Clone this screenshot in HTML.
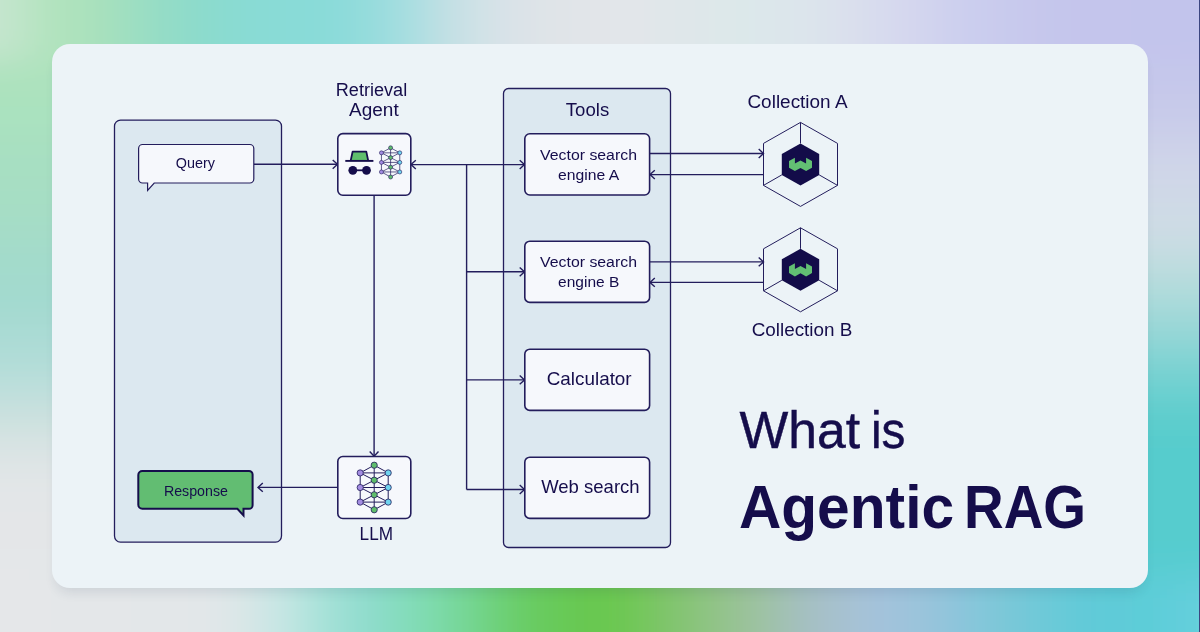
<!DOCTYPE html>
<html><head><meta charset="utf-8">
<style>
*{margin:0;padding:0;box-sizing:border-box}
html,body{width:1200px;height:632px;overflow:hidden}
body{position:relative;font-family:"Liberation Sans",sans-serif;color:#150d4b;background:#dfe5e8;}
#edge{position:absolute;left:1199px;top:0;width:1px;height:632px;background:#3c4680}
#card{position:absolute;left:52px;top:44px;width:1096px;height:544px;border-radius:18px;background:#ecf3f7;box-shadow:0 8px 12px -4px rgba(30,50,80,0.12)}
svg{position:absolute;left:0;top:0}
#main{will-change:transform}
</style></head>
<body>
<svg id="bgsvg" width="1200" height="632" viewBox="0 0 1200 632" style="position:absolute;left:0;top:0"><defs><filter id="bl" filterUnits="userSpaceOnUse" x="-100" y="-100" width="1400" height="832"><feGaussianBlur stdDeviation="16"/></filter></defs><g filter="url(#bl)"><rect x="-100" y="-100" width="1400" height="832" fill="#e3e6e9"/><rect x="-100" y="-100" width="20" height="200" fill="#c6e5cf"/><rect x="-100" y="532" width="20" height="200" fill="#e5e7e9"/><rect x="-80" y="-100" width="20" height="200" fill="#c6e5cf"/><rect x="-80" y="532" width="20" height="200" fill="#e5e7e9"/><rect x="-60" y="-100" width="20" height="200" fill="#c6e5cf"/><rect x="-60" y="532" width="20" height="200" fill="#e5e7e9"/><rect x="-40" y="-100" width="20" height="200" fill="#c6e5cf"/><rect x="-40" y="532" width="20" height="200" fill="#e5e7e9"/><rect x="-20" y="-100" width="20" height="200" fill="#c6e5cf"/><rect x="-20" y="532" width="20" height="200" fill="#e5e7e9"/><rect x="0" y="-100" width="20" height="200" fill="#c2e5cc"/><rect x="0" y="532" width="20" height="200" fill="#e5e7e9"/><rect x="20" y="-100" width="20" height="200" fill="#bae4c5"/><rect x="20" y="532" width="20" height="200" fill="#e5e7e9"/><rect x="40" y="-100" width="20" height="200" fill="#b2e3be"/><rect x="40" y="532" width="20" height="200" fill="#e4e7e9"/><rect x="60" y="-100" width="20" height="200" fill="#aee2bd"/><rect x="60" y="532" width="20" height="200" fill="#e4e7e9"/><rect x="80" y="-100" width="20" height="200" fill="#aae1bc"/><rect x="80" y="532" width="20" height="200" fill="#e4e7e9"/><rect x="100" y="-100" width="20" height="200" fill="#a5e0be"/><rect x="100" y="532" width="20" height="200" fill="#e4e7e9"/><rect x="120" y="-100" width="20" height="200" fill="#9edfc1"/><rect x="120" y="532" width="20" height="200" fill="#e3e7e9"/><rect x="140" y="-100" width="20" height="200" fill="#98ddc4"/><rect x="140" y="532" width="20" height="200" fill="#e3e7e9"/><rect x="160" y="-100" width="20" height="200" fill="#93dcc7"/><rect x="160" y="532" width="20" height="200" fill="#e3e7e9"/><rect x="180" y="-100" width="20" height="200" fill="#8edbca"/><rect x="180" y="532" width="20" height="200" fill="#e2e7e9"/><rect x="200" y="-100" width="20" height="200" fill="#8bdbce"/><rect x="200" y="532" width="20" height="200" fill="#e2e7e9"/><rect x="220" y="-100" width="20" height="200" fill="#8adbd1"/><rect x="220" y="532" width="20" height="200" fill="#dee7e8"/><rect x="240" y="-100" width="20" height="200" fill="#89dbd4"/><rect x="240" y="532" width="20" height="200" fill="#d5e6e6"/><rect x="260" y="-100" width="20" height="200" fill="#88dbd6"/><rect x="260" y="532" width="20" height="200" fill="#cce6e5"/><rect x="280" y="-100" width="20" height="200" fill="#89dbd7"/><rect x="280" y="532" width="20" height="200" fill="#c0e5e2"/><rect x="300" y="-100" width="20" height="200" fill="#89dbd8"/><rect x="300" y="532" width="20" height="200" fill="#b0e3dc"/><rect x="320" y="-100" width="20" height="200" fill="#8adbd9"/><rect x="320" y="532" width="20" height="200" fill="#a3e1d7"/><rect x="340" y="-100" width="20" height="200" fill="#8edbda"/><rect x="340" y="532" width="20" height="200" fill="#98ded2"/><rect x="360" y="-100" width="20" height="200" fill="#96dcdc"/><rect x="360" y="532" width="20" height="200" fill="#8edccc"/><rect x="380" y="-100" width="20" height="200" fill="#9edddf"/><rect x="380" y="532" width="20" height="200" fill="#88dcc2"/><rect x="400" y="-100" width="20" height="200" fill="#a9dee1"/><rect x="400" y="532" width="20" height="200" fill="#83dcb9"/><rect x="420" y="-100" width="20" height="200" fill="#b6dfe2"/><rect x="420" y="532" width="20" height="200" fill="#7edbad"/><rect x="440" y="-100" width="20" height="200" fill="#c4e0e4"/><rect x="440" y="532" width="20" height="200" fill="#79d8a0"/><rect x="460" y="-100" width="20" height="200" fill="#cce1e6"/><rect x="460" y="532" width="20" height="200" fill="#74d692"/><rect x="480" y="-100" width="20" height="200" fill="#d4e2e7"/><rect x="480" y="532" width="20" height="200" fill="#70d280"/><rect x="500" y="-100" width="20" height="200" fill="#dae2e8"/><rect x="500" y="532" width="20" height="200" fill="#6ccf6f"/><rect x="520" y="-100" width="20" height="200" fill="#dce3e8"/><rect x="520" y="532" width="20" height="200" fill="#69cc62"/><rect x="540" y="-100" width="20" height="200" fill="#e0e4e8"/><rect x="540" y="532" width="20" height="200" fill="#68ca5b"/><rect x="560" y="-100" width="20" height="200" fill="#e1e4e8"/><rect x="560" y="532" width="20" height="200" fill="#67c954"/><rect x="580" y="-100" width="20" height="200" fill="#e1e5e9"/><rect x="580" y="532" width="20" height="200" fill="#68c850"/><rect x="600" y="-100" width="20" height="200" fill="#e2e5e9"/><rect x="600" y="532" width="20" height="200" fill="#6ac850"/><rect x="620" y="-100" width="20" height="200" fill="#e2e6ea"/><rect x="620" y="532" width="20" height="200" fill="#70c756"/><rect x="640" y="-100" width="20" height="200" fill="#e1e6ea"/><rect x="640" y="532" width="20" height="200" fill="#78c661"/><rect x="660" y="-100" width="20" height="200" fill="#e0e7ea"/><rect x="660" y="532" width="20" height="200" fill="#80c56d"/><rect x="680" y="-100" width="20" height="200" fill="#dfe7ea"/><rect x="680" y="532" width="20" height="200" fill="#88c478"/><rect x="700" y="-100" width="20" height="200" fill="#dee7ea"/><rect x="700" y="532" width="20" height="200" fill="#8fc384"/><rect x="720" y="-100" width="20" height="200" fill="#dde8ea"/><rect x="720" y="532" width="20" height="200" fill="#95c390"/><rect x="740" y="-100" width="20" height="200" fill="#dce8ea"/><rect x="740" y="532" width="20" height="200" fill="#9cc29c"/><rect x="760" y="-100" width="20" height="200" fill="#dce6eb"/><rect x="760" y="532" width="20" height="200" fill="#9fc1a9"/><rect x="780" y="-100" width="20" height="200" fill="#dce6eb"/><rect x="780" y="532" width="20" height="200" fill="#a3c1b7"/><rect x="800" y="-100" width="20" height="200" fill="#dce4ec"/><rect x="800" y="532" width="20" height="200" fill="#a6c0c4"/><rect x="820" y="-100" width="20" height="200" fill="#dbe2ec"/><rect x="820" y="532" width="20" height="200" fill="#a6c1cb"/><rect x="840" y="-100" width="20" height="200" fill="#dae0ed"/><rect x="840" y="532" width="20" height="200" fill="#a6c1d3"/><rect x="860" y="-100" width="20" height="200" fill="#d8dced"/><rect x="860" y="532" width="20" height="200" fill="#a6c2da"/><rect x="880" y="-100" width="20" height="200" fill="#d7daee"/><rect x="880" y="532" width="20" height="200" fill="#a1c3db"/><rect x="900" y="-100" width="20" height="200" fill="#d4d6ee"/><rect x="900" y="532" width="20" height="200" fill="#9dc3db"/><rect x="920" y="-100" width="20" height="200" fill="#d1d4ee"/><rect x="920" y="532" width="20" height="200" fill="#98c4dc"/><rect x="940" y="-100" width="20" height="200" fill="#ced0ee"/><rect x="940" y="532" width="20" height="200" fill="#90c5db"/><rect x="960" y="-100" width="20" height="200" fill="#cbceee"/><rect x="960" y="532" width="20" height="200" fill="#88c6da"/><rect x="980" y="-100" width="20" height="200" fill="#cacced"/><rect x="980" y="532" width="20" height="200" fill="#80c7d9"/><rect x="1000" y="-100" width="20" height="200" fill="#c8caed"/><rect x="1000" y="532" width="20" height="200" fill="#79c8d8"/><rect x="1020" y="-100" width="20" height="200" fill="#c7c8ec"/><rect x="1020" y="532" width="20" height="200" fill="#72c9d8"/><rect x="1040" y="-100" width="20" height="200" fill="#c5c6ec"/><rect x="1040" y="532" width="20" height="200" fill="#6cc9d8"/><rect x="1060" y="-100" width="20" height="200" fill="#c5c6ec"/><rect x="1060" y="532" width="20" height="200" fill="#65cad8"/><rect x="1080" y="-100" width="20" height="200" fill="#c4c5ec"/><rect x="1080" y="532" width="20" height="200" fill="#61cad8"/><rect x="1100" y="-100" width="20" height="200" fill="#c4c5ec"/><rect x="1100" y="532" width="20" height="200" fill="#5fcbd8"/><rect x="1120" y="-100" width="20" height="200" fill="#c3c5ec"/><rect x="1120" y="532" width="20" height="200" fill="#5eccd8"/><rect x="1140" y="-100" width="20" height="200" fill="#c3c5ec"/><rect x="1140" y="532" width="20" height="200" fill="#5ccdd8"/><rect x="1160" y="-100" width="20" height="200" fill="#c3c4ec"/><rect x="1160" y="532" width="20" height="200" fill="#60ceda"/><rect x="1180" y="-100" width="20" height="200" fill="#c2c4ec"/><rect x="1180" y="532" width="20" height="200" fill="#64cfdb"/><rect x="1200" y="-100" width="20" height="200" fill="#c2c4ec"/><rect x="1200" y="532" width="20" height="200" fill="#66d0dc"/><rect x="1220" y="-100" width="20" height="200" fill="#c2c4ec"/><rect x="1220" y="532" width="20" height="200" fill="#66d0dc"/><rect x="1240" y="-100" width="20" height="200" fill="#c2c4ec"/><rect x="1240" y="532" width="20" height="200" fill="#66d0dc"/><rect x="1260" y="-100" width="20" height="200" fill="#c2c4ec"/><rect x="1260" y="532" width="20" height="200" fill="#66d0dc"/><rect x="1280" y="-100" width="20" height="200" fill="#c2c4ec"/><rect x="1280" y="532" width="20" height="200" fill="#66d0dc"/><rect x="-100" y="60" width="210" height="20" fill="#aee2bd"/><rect x="1090" y="60" width="210" height="20" fill="#c5c7eb"/><rect x="-100" y="80" width="210" height="20" fill="#ace2be"/><rect x="1090" y="80" width="210" height="20" fill="#c6c8ea"/><rect x="-100" y="100" width="210" height="20" fill="#aae2bf"/><rect x="1090" y="100" width="210" height="20" fill="#c7caea"/><rect x="-100" y="120" width="210" height="20" fill="#a9e1c0"/><rect x="1090" y="120" width="210" height="20" fill="#cacee9"/><rect x="-100" y="140" width="210" height="20" fill="#a8e0c1"/><rect x="1090" y="140" width="210" height="20" fill="#cdd2e9"/><rect x="-100" y="160" width="210" height="20" fill="#a7dfc2"/><rect x="1090" y="160" width="210" height="20" fill="#d0d6e8"/><rect x="-100" y="180" width="210" height="20" fill="#a6dec3"/><rect x="1090" y="180" width="210" height="20" fill="#cfd8e7"/><rect x="-100" y="200" width="210" height="20" fill="#a6dec5"/><rect x="1090" y="200" width="210" height="20" fill="#cfdae6"/><rect x="-100" y="220" width="210" height="20" fill="#a5dcc7"/><rect x="1090" y="220" width="210" height="20" fill="#cedce4"/><rect x="-100" y="240" width="210" height="20" fill="#a4dcca"/><rect x="1090" y="240" width="210" height="20" fill="#c6dce2"/><rect x="-100" y="260" width="210" height="20" fill="#a3dacc"/><rect x="1090" y="260" width="210" height="20" fill="#bcdcde"/><rect x="-100" y="280" width="210" height="20" fill="#a2dace"/><rect x="1090" y="280" width="210" height="20" fill="#b1dbdb"/><rect x="-100" y="300" width="210" height="20" fill="#a4dad0"/><rect x="1090" y="300" width="210" height="20" fill="#a4d9d9"/><rect x="-100" y="320" width="210" height="20" fill="#a9dad4"/><rect x="1090" y="320" width="210" height="20" fill="#97d7d7"/><rect x="-100" y="340" width="210" height="20" fill="#aedcd6"/><rect x="1090" y="340" width="210" height="20" fill="#89d4d4"/><rect x="-100" y="360" width="210" height="20" fill="#b4ddd9"/><rect x="1090" y="360" width="210" height="20" fill="#79d2d2"/><rect x="-100" y="380" width="210" height="20" fill="#bedfdb"/><rect x="1090" y="380" width="210" height="20" fill="#6cd0d0"/><rect x="-100" y="400" width="210" height="20" fill="#c7e0de"/><rect x="1090" y="400" width="210" height="20" fill="#62cece"/><rect x="-100" y="420" width="210" height="20" fill="#d1e2e0"/><rect x="1090" y="420" width="210" height="20" fill="#58cccc"/><rect x="-100" y="440" width="210" height="20" fill="#d9e3e4"/><rect x="1090" y="440" width="210" height="20" fill="#56cccc"/><rect x="-100" y="460" width="210" height="20" fill="#e0e5e6"/><rect x="1090" y="460" width="210" height="20" fill="#56cccd"/><rect x="-100" y="480" width="210" height="20" fill="#e3e6e8"/><rect x="1090" y="480" width="210" height="20" fill="#56cccd"/><rect x="-100" y="500" width="210" height="20" fill="#e3e6e8"/><rect x="1090" y="500" width="210" height="20" fill="#56ccce"/><rect x="-100" y="520" width="210" height="20" fill="#e4e6e8"/><rect x="1090" y="520" width="210" height="20" fill="#56ccce"/><rect x="-100" y="540" width="210" height="20" fill="#e4e6e8"/><rect x="1090" y="540" width="210" height="20" fill="#56cccf"/><rect x="-100" y="560" width="210" height="20" fill="#e4e7e9"/><rect x="1090" y="560" width="210" height="20" fill="#59ccd1"/></g></svg><div id="edge"></div>
<div id="card"></div>
<svg id="main" width="1200" height="632" viewBox="0 0 1200 632">
<g fill="none" stroke="#231d5c" stroke-width="1.3">
<rect x="114.5" y="120.1" width="167" height="422" rx="6" fill="#dce8f0"/>
<rect x="503.5" y="88.5" width="167" height="459" rx="5" fill="#dce8f0"/>
</g>
<g fill="none" stroke="#231d5c" stroke-width="1.4" stroke-linejoin="miter">
<line x1="254" y1="164.3" x2="337.5" y2="164.3"/>
<path d="M332.70,159.90 L337.50,164.30 L332.70,168.70"/>
<line x1="411" y1="164.6" x2="524.5" y2="164.6"/>
<path d="M415.80,160.20 L411.00,164.60 L415.80,169.00"/>
<path d="M519.70,160.20 L524.50,164.60 L519.70,169.00"/>
<line x1="466.6" y1="164.6" x2="466.6" y2="489.5"/>
<line x1="466.6" y1="271.8" x2="524.5" y2="271.8"/>
<path d="M519.70,267.40 L524.50,271.80 L519.70,276.20"/>
<line x1="466.6" y1="379.9" x2="524.5" y2="379.9"/>
<path d="M519.70,375.50 L524.50,379.90 L519.70,384.30"/>
<line x1="466.6" y1="489.5" x2="524.5" y2="489.5"/>
<path d="M519.70,485.10 L524.50,489.50 L519.70,493.90"/>
<line x1="374.1" y1="195.5" x2="374.1" y2="456.3"/>
<path d="M369.70,451.50 L374.10,456.30 L378.50,451.50"/>
<line x1="337.5" y1="487.4" x2="258" y2="487.4"/>
<path d="M262.80,483.00 L258.00,487.40 L262.80,491.80"/>
<line x1="650" y1="153.5" x2="763.5" y2="153.5"/>
<path d="M758.70,149.10 L763.50,153.50 L758.70,157.90"/>
<line x1="763.5" y1="174.6" x2="650" y2="174.6"/>
<path d="M654.80,170.20 L650.00,174.60 L654.80,179.00"/>
<line x1="650" y1="261.9" x2="763.5" y2="261.9"/>
<path d="M758.70,257.50 L763.50,261.90 L758.70,266.30"/>
<line x1="763.5" y1="282.4" x2="650" y2="282.4"/>
<path d="M654.80,278.00 L650.00,282.40 L654.80,286.80"/>
</g>
<g stroke="#231d5c" stroke-width="1.6" fill="#f6f8fc">
<rect x="337.8" y="133.6" width="73" height="61.6" rx="5"/>
<rect x="337.8" y="456.5" width="73" height="62" rx="5"/>
<rect x="524.8" y="133.8" width="124.8" height="61.2" rx="5"/>
<rect x="524.8" y="241.2" width="124.8" height="61.2" rx="5"/>
<rect x="524.8" y="349.2" width="124.8" height="61.2" rx="5"/>
<rect x="524.8" y="457.2" width="124.8" height="61.2" rx="5"/>
</g>
<path d="M142.6,144.5 H249.8 a4,4 0 0 1 4,4 V179 a4,4 0 0 1 -4,4 H154.2 L147.6,190.4 V183 H142.6 a4,4 0 0 1 -4,-4 V148.5 a4,4 0 0 1 4,-4 Z" fill="#f6f8fc" stroke="#231d5c" stroke-width="1.2" stroke-linejoin="miter"/>
<path d="M142.3,471 H249 a3.6,3.6 0 0 1 3.6,3.6 V505.2 a3.6,3.6 0 0 1 -3.6,3.6 H243.5 V515.4 L237.4,508.8 H142.3 a4,4 0 0 1 -4,-4 V475 a4,4 0 0 1 4,-4 Z" fill="#62bd72" stroke="#150d4b" stroke-width="2" stroke-linejoin="miter"/>
<path d="M350.7,160.6 L352.6,151.6 H366.3 L368.2,160.6" fill="#5fbd6c" stroke="#150d4b" stroke-width="1.8" stroke-linejoin="round"/>
<line x1="345.3" y1="160.9" x2="373.4" y2="160.9" stroke="#150d4b" stroke-width="1.9"/>
<circle cx="352.8" cy="170.3" r="4.4" fill="#150d4b"/><circle cx="366.5" cy="170.3" r="4.4" fill="#150d4b"/>
<line x1="352.8" y1="170.3" x2="366.5" y2="170.3" stroke="#150d4b" stroke-width="1.8"/>
<g stroke="#231d5c" stroke-width="0.7" fill="none">
<line x1="390.60" y1="147.79" x2="390.60" y2="177.01"/>
<line x1="381.43" y1="152.84" x2="381.43" y2="171.96"/>
<line x1="399.77" y1="152.84" x2="399.77" y2="171.96"/>
<line x1="381.43" y1="152.84" x2="399.77" y2="152.84"/>
<line x1="381.43" y1="162.40" x2="399.77" y2="162.40"/>
<line x1="381.43" y1="171.96" x2="399.77" y2="171.96"/>
<line x1="390.60" y1="147.79" x2="381.43" y2="152.84"/>
<line x1="390.60" y1="147.79" x2="399.77" y2="152.84"/>
<line x1="390.60" y1="177.01" x2="381.43" y2="171.96"/>
<line x1="390.60" y1="177.01" x2="399.77" y2="171.96"/>
<line x1="381.43" y1="152.84" x2="399.77" y2="162.40"/>
<line x1="399.77" y1="152.84" x2="381.43" y2="162.40"/>
<line x1="381.43" y1="162.40" x2="399.77" y2="171.96"/>
<line x1="399.77" y1="162.40" x2="381.43" y2="171.96"/>
</g>
<g stroke="#231d5c" stroke-width="0.6">
<circle cx="381.43" cy="152.84" r="2.0" fill="#a48de2"/>
<circle cx="381.43" cy="162.40" r="2.0" fill="#a48de2"/>
<circle cx="381.43" cy="171.96" r="2.0" fill="#a48de2"/>
<circle cx="399.77" cy="152.84" r="2.0" fill="#6fd4ef"/>
<circle cx="399.77" cy="162.40" r="2.0" fill="#6fd4ef"/>
<circle cx="399.77" cy="171.96" r="2.0" fill="#6fd4ef"/>
<circle cx="390.60" cy="147.79" r="2.0" fill="#5fbd6c"/>
<circle cx="390.60" cy="157.62" r="2.0" fill="#5fbd6c"/>
<circle cx="390.60" cy="167.18" r="2.0" fill="#5fbd6c"/>
<circle cx="390.60" cy="177.01" r="2.0" fill="#5fbd6c"/>
</g>
<g stroke="#231d5c" stroke-width="1.0" fill="none">
<line x1="374.20" y1="465.20" x2="374.20" y2="509.80"/>
<line x1="360.20" y1="472.90" x2="360.20" y2="502.10"/>
<line x1="388.20" y1="472.90" x2="388.20" y2="502.10"/>
<line x1="360.20" y1="472.90" x2="388.20" y2="472.90"/>
<line x1="360.20" y1="487.50" x2="388.20" y2="487.50"/>
<line x1="360.20" y1="502.10" x2="388.20" y2="502.10"/>
<line x1="374.20" y1="465.20" x2="360.20" y2="472.90"/>
<line x1="374.20" y1="465.20" x2="388.20" y2="472.90"/>
<line x1="374.20" y1="509.80" x2="360.20" y2="502.10"/>
<line x1="374.20" y1="509.80" x2="388.20" y2="502.10"/>
<line x1="360.20" y1="472.90" x2="388.20" y2="487.50"/>
<line x1="388.20" y1="472.90" x2="360.20" y2="487.50"/>
<line x1="360.20" y1="487.50" x2="388.20" y2="502.10"/>
<line x1="388.20" y1="487.50" x2="360.20" y2="502.10"/>
</g>
<g stroke="#231d5c" stroke-width="0.8">
<circle cx="360.20" cy="472.90" r="3.1" fill="#a48de2"/>
<circle cx="360.20" cy="487.50" r="3.1" fill="#a48de2"/>
<circle cx="360.20" cy="502.10" r="3.1" fill="#a48de2"/>
<circle cx="388.20" cy="472.90" r="3.1" fill="#6fd4ef"/>
<circle cx="388.20" cy="487.50" r="3.1" fill="#6fd4ef"/>
<circle cx="388.20" cy="502.10" r="3.1" fill="#6fd4ef"/>
<circle cx="374.20" cy="465.20" r="3.1" fill="#5fbd6c"/>
<circle cx="374.20" cy="480.20" r="3.1" fill="#5fbd6c"/>
<circle cx="374.20" cy="494.80" r="3.1" fill="#5fbd6c"/>
<circle cx="374.20" cy="509.80" r="3.1" fill="#5fbd6c"/>
</g>
<polygon points="800.50,122.40 837.50,143.40 837.50,185.40 800.50,206.40 763.50,185.40 763.50,143.40" fill="none" stroke="#231d5c" stroke-width="1"/>
<line x1="800.50" y1="143.40" x2="800.50" y2="122.40" stroke="#231d5c" stroke-width="1"/>
<line x1="819.20" y1="174.90" x2="837.50" y2="185.40" stroke="#231d5c" stroke-width="1"/>
<line x1="781.80" y1="174.90" x2="763.50" y2="185.40" stroke="#231d5c" stroke-width="1"/>
<polygon points="800.50,143.40 819.20,153.90 819.20,174.90 800.50,185.40 781.80,174.90 781.80,153.90" fill="#130c49"/>
<polygon points="789.00,161.00 794.90,157.80 794.90,163.55 800.50,160.50 806.10,163.55 806.10,157.80 812.00,161.00 812.00,167.70 806.10,171.10 800.50,167.90 794.90,171.10 789.00,167.70" fill="#62bf73"/>
<polygon points="800.50,227.80 837.50,248.80 837.50,290.80 800.50,311.80 763.50,290.80 763.50,248.80" fill="none" stroke="#231d5c" stroke-width="1"/>
<line x1="800.50" y1="248.80" x2="800.50" y2="227.80" stroke="#231d5c" stroke-width="1"/>
<line x1="819.20" y1="280.30" x2="837.50" y2="290.80" stroke="#231d5c" stroke-width="1"/>
<line x1="781.80" y1="280.30" x2="763.50" y2="290.80" stroke="#231d5c" stroke-width="1"/>
<polygon points="800.50,248.80 819.20,259.30 819.20,280.30 800.50,290.80 781.80,280.30 781.80,259.30" fill="#130c49"/>
<polygon points="789.00,266.40 794.90,263.20 794.90,268.95 800.50,265.90 806.10,268.95 806.10,263.20 812.00,266.40 812.00,273.10 806.10,276.50 800.50,273.30 794.90,276.50 789.00,273.10" fill="#62bf73"/>
<g fill="#150d4b" font-family="Liberation Sans, sans-serif">
<text x="371.5" y="95.7" font-size="18" text-anchor="middle" font-weight="normal" textLength="71.4" lengthAdjust="spacingAndGlyphs">Retrieval</text>
<text x="373.9" y="115.5" font-size="18" text-anchor="middle" font-weight="normal" textLength="49.6" lengthAdjust="spacingAndGlyphs">Agent</text>
<text x="587.5" y="116.2" font-size="18.5" text-anchor="middle" font-weight="normal" textLength="43.4" lengthAdjust="spacingAndGlyphs">Tools</text>
<text x="195.4" y="168.3" font-size="14.5" text-anchor="middle" font-weight="normal" textLength="39.2" lengthAdjust="spacingAndGlyphs">Query</text>
<text x="195.9" y="496.1" font-size="14.5" text-anchor="middle" font-weight="normal" textLength="64" lengthAdjust="spacingAndGlyphs">Response</text>
<text x="376.3" y="540.1" font-size="18" text-anchor="middle" font-weight="normal" textLength="33.4" lengthAdjust="spacingAndGlyphs">LLM</text>
<text x="588.5" y="159.5" font-size="15.3" text-anchor="middle" font-weight="normal" textLength="96.9" lengthAdjust="spacingAndGlyphs">Vector search</text>
<text x="588.7" y="179.6" font-size="15.3" text-anchor="middle" font-weight="normal" textLength="61.2" lengthAdjust="spacingAndGlyphs">engine A</text>
<text x="588.5" y="267.3" font-size="15.3" text-anchor="middle" font-weight="normal" textLength="96.9" lengthAdjust="spacingAndGlyphs">Vector search</text>
<text x="588.7" y="287.4" font-size="15.3" text-anchor="middle" font-weight="normal" textLength="61.2" lengthAdjust="spacingAndGlyphs">engine B</text>
<text x="589.2" y="384.8" font-size="18.5" text-anchor="middle" font-weight="normal" textLength="84.9" lengthAdjust="spacingAndGlyphs">Calculator</text>
<text x="590.4" y="492.8" font-size="18.5" text-anchor="middle" font-weight="normal" textLength="98.4" lengthAdjust="spacingAndGlyphs">Web search</text>
<text x="797.5" y="107.6" font-size="18" text-anchor="middle" font-weight="normal" textLength="100.1" lengthAdjust="spacingAndGlyphs">Collection A</text>
<text x="802" y="336.3" font-size="18" text-anchor="middle" font-weight="normal" textLength="100.7" lengthAdjust="spacingAndGlyphs">Collection B</text>
<text x="739.6" y="448" font-size="52.5" text-anchor="start" font-weight="normal" textLength="120.6" lengthAdjust="spacingAndGlyphs" stroke="#150d4b" stroke-width="0.45">What</text>
<text x="871.0" y="448" font-size="52.5" text-anchor="start" font-weight="normal" textLength="34.5" lengthAdjust="spacingAndGlyphs" stroke="#150d4b" stroke-width="0.45">is</text>
<text x="738.9" y="527.7" font-size="60.8" text-anchor="start" font-weight="bold" textLength="215.2" lengthAdjust="spacingAndGlyphs">Agentic</text>
<text x="964.0" y="527.7" font-size="60.8" text-anchor="start" font-weight="bold" textLength="122.0" lengthAdjust="spacingAndGlyphs">RAG</text>
</g>
</svg>
</body></html>
